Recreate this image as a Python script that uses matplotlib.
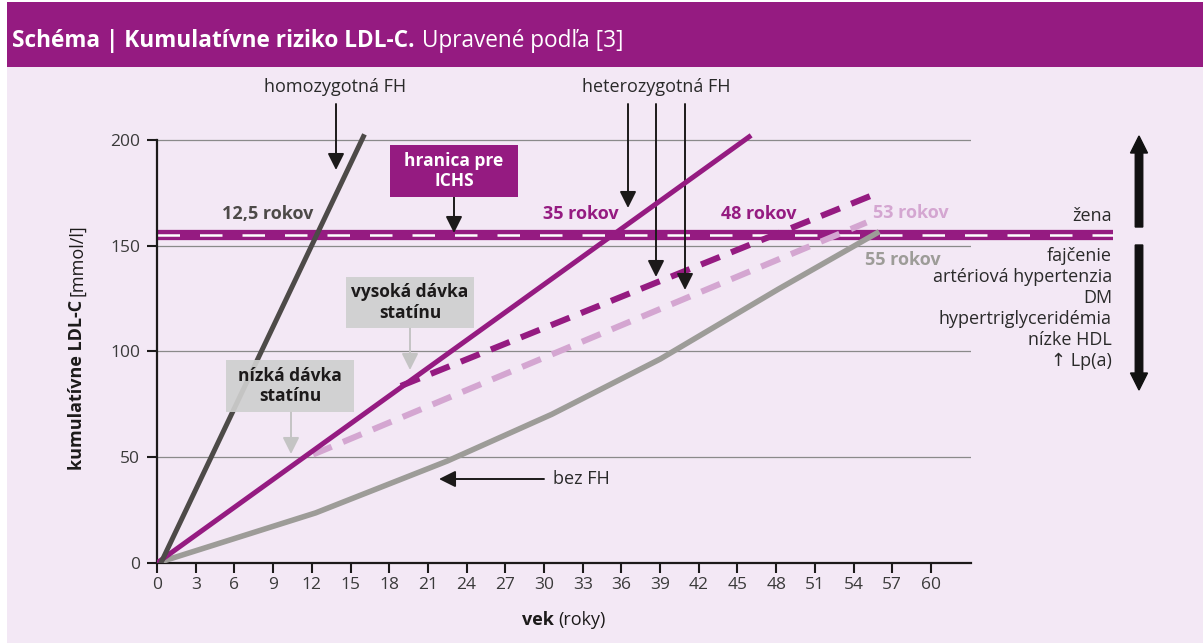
#!/usr/bin/env python

import matplotlib.pyplot as plt
from matplotlib import font_manager
from matplotlib.patches import Rectangle, FancyArrow
from matplotlib.transforms import IdentityTransform

W, H = 1203, 643


def pick_family(candidates):
    # first family that really ships a bold face
    for fam in candidates:
        weights = [f.weight for f in font_manager.fontManager.ttflist if f.name == fam]
        weights = [w if isinstance(w, int) else 700 if 'bold' in str(w) else 400 for w in weights]
        if any(w >= 600 for w in weights) and any(w < 600 for w in weights):
            return fam
    return 'DejaVu Sans'


FAMILY = pick_family(['Noto Sans', 'Open Sans', 'Lato', 'Roboto', 'Liberation Sans'])
plt.rcParams['font.family'] = [FAMILY, 'DejaVu Sans']

PURPLE = '#951b81'
PINK = '#d4a6d1'
DARK = '#4d4a48'
GRAY = '#9d9c98'
BOXGRAY = '#cfcfcf'
BG = '#f3e8f5'
INK = '#1c1a1a'
fs = 13

# vek (roky) vs. kumulativne LDL-C (mmol/l)
homo_age = [0.3, 16.0]
homo_ldl = [0, 201.6]
hetero_age = [0, 45.9]
hetero_ldl = [0, 201.5]
high_dose_age = [18.9, 55.7]
high_dose_ldl = [83.7, 174.5]
low_dose_age = [12.1, 55.0]
low_dose_ldl = [51.3, 161.0]
no_fh_age = [0, 12.3, 22.5, 30.6, 39.0, 48.2, 55.8]
no_fh_ldl = [0, 23.7, 48.2, 70.3, 96.4, 129.6, 156.0]
ichs_limit = 155
limit_end = 74.1  # band runs on past the axis, up to the text on the right

x_ticks = list(range(0, 61, 3))
y_ticks = [0, 50, 100, 150, 200]
risk_factors = ['fajčenie', 'artériová hypertenzia', 'DM',
                'hypertriglyceridémia', 'nízke HDL', '↑ Lp(a)']
onset_labels = ['12,5 rokov', '35 rokov', '48 rokov', '53 rokov', '55 rokov']


def px(x, y):
    # pixel measured from the top of the picture -> figure pixels
    return (x, H - y)


def note(ax, s, x, y, **kw):
    ax.annotate(s, xy=px(x, y), xycoords='figure pixels',
                annotation_clip=False, **kw)


def arrow(ax, x0, y0, x1, y1, color=INK):
    ax.annotate('', xy=px(x1, y1), xytext=px(x0, y0),
                xycoords='figure pixels', textcoords='figure pixels',
                arrowprops=dict(arrowstyle='-|>,head_length=0.5,head_width=0.25',
                                color=color, lw=1.4, shrinkA=0, shrinkB=0,
                                mutation_scale=20),
                annotation_clip=False)


def chain_text(fig, parts, x, y, size, gap=4, rotation=0, align='center', color=INK):
    # bold + regular pieces set one after another along the baseline
    texts = [fig.text(0, 0, s, fontsize=size, fontweight=w, color=color,
                      rotation=rotation, rotation_mode='anchor',
                      ha='left', va='baseline', transform=IdentityTransform())
             for s, w in parts]
    r = fig.canvas.get_renderer()
    boxes = [t.get_window_extent(r) for t in texts]
    lengths = [b.height if rotation else b.width for b in boxes]
    total = sum(lengths) + gap * (len(parts) - 1)
    pos = -total / 2 if align == 'center' else 0
    bx, by = px(x, y)
    for t, L in zip(texts, lengths):
        t.set_position((bx, by + pos) if rotation else (bx + pos, by))
        pos += L + gap


def label_box(fig, x0, y0, x1, y1, text, face, color, alpha=1.0):
    fig.add_artist(Rectangle(px(x0, y1), x1 - x0, y1 - y0, transform=IdentityTransform(),
                             facecolor=face, edgecolor='none', alpha=alpha, zorder=2))
    fig.text(*px((x0 + x1) / 2, (y0 + y1) / 2), text, transform=IdentityTransform(),
             ha='center', va='center', fontsize=12.5, fontweight='bold', color=color,
             linespacing=1.15, zorder=3)


def main():
    fig = plt.figure(figsize=(W / 100, H / 100), dpi=100, facecolor='white')
    fig.add_artist(Rectangle((7, 0), W, H - 2, transform=IdentityTransform(),
                             facecolor=BG, edgecolor='none', zorder=-2))
    fig.add_artist(Rectangle(px(7, 67), W, 65, transform=IdentityTransform(),
                             facecolor=PURPLE, edgecolor='none', zorder=-1))

    ax = fig.add_axes([157 / W, (H - 563) / H, (971 - 157) / W, 210 * 2.115 / H])
    ax.set_facecolor('none')
    ax.set_xlim(0, (971 - 157) / 12.9)
    ax.set_ylim(0, 210)

    ax.plot([0, limit_end], [ichs_limit] * 2, color=PURPLE, lw=7.4,
            solid_capstyle='butt', clip_on=False, zorder=2)
    ax.plot([0, limit_end], [ichs_limit] * 2, color='white', lw=1.8,
            dashes=(9, 8), clip_on=False, zorder=2.1)

    ax.plot(no_fh_age, no_fh_ldl, color=GRAY, lw=4.0, solid_joinstyle='round', zorder=3)
    ax.plot(low_dose_age, low_dose_ldl, color=PINK, lw=4.4, dashes=(3.3, 2.0), zorder=3)
    ax.plot(high_dose_age, high_dose_ldl, color=PURPLE, lw=4.4, dashes=(3.3, 2.0), zorder=3)
    ax.plot(hetero_age, hetero_ldl, color=PURPLE, lw=3.6, zorder=4)
    ax.plot(homo_age, homo_ldl, color=DARK, lw=3.6, zorder=4)

    for s in ['top', 'right']:
        ax.spines[s].set_visible(False)
    ax.spines['left'].set_bounds(0, 200)
    for s in ['left', 'bottom']:
        ax.spines[s].set_linewidth(1.6)
        ax.spines[s].set_color(INK)
    ax.set_xticks(x_ticks)
    ax.set_yticks(y_ticks)
    ax.tick_params(length=7, width=1.5, color=INK, labelsize=12.5, labelcolor='#3a3a3a')
    ax.tick_params(axis='y', pad=5)
    ax.tick_params(axis='x', pad=3)
    ax.grid(axis='y', color='#8a8a8a', lw=0.9, zorder=1)
    ax.grid(axis='x', visible=False)
    ax.set_axisbelow(True)

    # title and axis labels
    chain_text(fig, [('Schéma | Kumulatívne riziko LDL-C.', 'bold'),
                     ('Upravené podľa [3]', 'normal')],
               12, 47, 16.3, gap=7, align='left', color='white')
    chain_text(fig, [('vek', 'bold'), ('(roky)', 'normal')], 564, 625, 13, gap=4)
    chain_text(fig, [('kumulatívne LDL-C', 'bold'), ('[mmol/l]', 'normal')],
               82, 347, 13, gap=4, rotation=90)

    # arrows pointing at the curves
    note(ax, 'homozygotná FH', 335, 87, ha='center', va='center', fontsize=fs, color='#2a2a2a')
    arrow(ax, 336, 104, 336, 170)
    note(ax, 'heterozygotná FH', 656, 87, ha='center', va='center', fontsize=fs, color='#2a2a2a')
    for x_arr, tip in zip([628, 656, 685], [208, 277, 290]):
        arrow(ax, x_arr, 104, x_arr, tip)
    arrow(ax, 544, 479, 439, 479)
    note(ax, 'bez FH', 553, 479, ha='left', va='center', fontsize=fs, color='#2a2a2a')

    label_box(fig, 390, 145, 518, 197, 'hranica pre\nICHS', PURPLE, 'white')
    arrow(ax, 454, 197, 454, 233)
    label_box(fig, 346, 277, 474, 328, 'vysoká dávka\nstatínu', BOXGRAY, INK, alpha=0.92)
    arrow(ax, 410, 328, 410, 370, color='#c4c4c4')
    label_box(fig, 226, 360, 354, 412, 'nízká dávka\nstatínu', BOXGRAY, INK, alpha=0.92)
    arrow(ax, 291, 412, 291, 454, color='#c4c4c4')

    onset_pos = [(268, 214), (581, 214), (759, 214), (911, 213), (903, 260)]
    onset_col = [DARK, PURPLE, PURPLE, PINK, GRAY]
    for s, (x, y), c in zip(onset_labels, onset_pos, onset_col):
        note(ax, s, x, y, ha='center', va='center', fontsize=fs, fontweight='bold', color=c)

    # risk modifiers on the right
    note(ax, 'žena', 1112, 216, ha='right', va='center', fontsize=13, color='#2a2a2a')
    for i, s in enumerate(risk_factors):
        note(ax, s, 1112, 256 + 20.9 * i, ha='right', va='center', fontsize=13, color='#2a2a2a')
    fig.add_artist(FancyArrow(1139, H - 227, 0, 91, width=7.5, head_width=17,
                              head_length=17, length_includes_head=True,
                              color='#111111', transform=IdentityTransform()))
    fig.add_artist(FancyArrow(1139, H - 245, 0, -(390 - 245), width=7.5, head_width=17,
                              head_length=17, length_includes_head=True,
                              color='#111111', transform=IdentityTransform()))

    fig.savefig('out.png', dpi=100, facecolor=fig.get_facecolor())
    plt.close(fig)


if __name__ == "__main__":
    main()
